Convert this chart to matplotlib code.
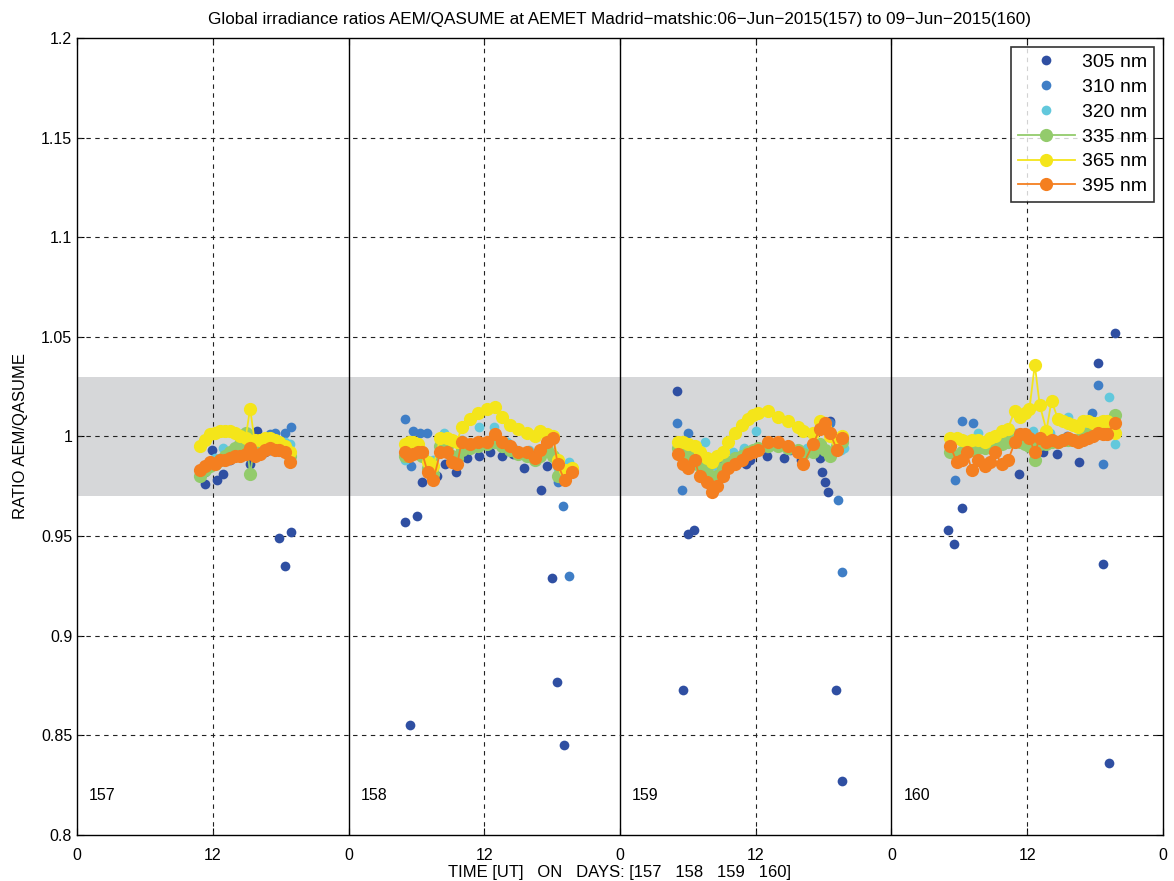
import numpy as np
import matplotlib
matplotlib.use('Agg')
import matplotlib.pyplot as plt

plt.rcParams['font.family'] = ['Liberation Sans', 'DejaVu Sans']

days = [157, 158, 159, 160]
wavelengths = ['305 nm', '310 nm', '320 nm', '335 nm', '365 nm', '395 nm']
colors = ['#2f4fa2', '#3f7ec6', '#62c8dc', '#93cb6c', '#f4e51a', '#f47f20']

# line series (335, 365, 395 nm): hours UT and ratios per day
line_hours = {
    157: [10.9, 11.3, 11.8, 12.2, 12.6, 13.1, 13.5, 14.0, 14.4, 14.9, 15.3, 15.7, 16.2, 16.6, 17.1, 17.5, 17.9, 18.4, 18.8],
    158: [5.0, 5.35, 5.7, 6.15, 6.5, 7.0, 7.5, 8.1, 8.7, 9.15, 9.6, 10.0, 10.75, 11.45, 12.25, 12.95, 13.55, 14.3, 15.0,
          15.8, 16.5, 16.95, 17.55, 18.1, 18.5, 19.1, 19.75],
    159: [5.1, 5.55, 6.0, 6.6, 7.05, 7.7, 8.15, 8.6, 9.1, 9.55, 10.15, 10.8, 11.3, 11.75, 12.2, 13.1, 14.0, 14.85, 15.75,
          16.2, 17.05, 17.7, 18.1, 18.55, 19.2, 19.6],
    160: [5.2, 5.8, 6.2, 6.65, 7.1, 7.65, 8.25, 8.7, 9.15, 9.75, 10.3, 10.9, 11.35, 11.8, 12.2, 12.67, 13.1, 13.7, 14.15,
          14.7, 15.15, 15.6, 16.05, 16.5, 16.95, 17.35, 17.8, 18.25, 18.7, 19.05, 19.75],
}
r335 = {
    157: [0.980, 0.983, 0.985, 0.986, 0.988, 0.990, 0.992, 0.994, 0.996, 1.002, 0.981, 0.996, 0.995, 0.996, 0.996, 0.996,
          0.995, 0.994, 0.990],
    158: [0.990, 0.993, 0.994, 0.994, 0.990, 0.984, 0.981, 0.995, 0.995, 0.990, 0.989, 0.993, 0.994, 0.995, 0.996, 0.997,
          0.995, 0.993, 0.991, 0.990, 0.988, 0.990, 0.993, 0.990, 0.980, 0.979, 0.983],
    159: [0.994, 0.992, 0.990, 0.990, 0.985, 0.982, 0.978, 0.980, 0.984, 0.987, 0.989, 0.990, 0.992, 0.993, 0.994, 0.995,
          0.995, 0.994, 0.993, 0.991, 0.992, 0.996, 0.993, 0.990, 0.995, 0.997],
    160: [0.992, 0.990, 0.992, 0.994, 0.993, 0.994, 0.994, 0.995, 0.996, 0.996, 0.997, 0.998, 0.997, 0.996, 0.995, 0.988,
          0.996, 0.996, 0.997, 0.997, 0.998, 0.998, 0.998, 0.998, 1.000, 1.001, 1.001, 1.002, 1.004, 1.006, 1.011],
}
r365 = {
    157: [0.995, 0.998, 1.001, 1.002, 1.003, 1.003, 1.003, 1.002, 1.000, 0.999, 1.014, 0.998, 0.998, 0.999, 0.999, 0.998,
          0.997, 0.995, 0.992],
    158: [0.996, 0.997, 0.997, 0.996, 0.992, 0.987, 0.985, 0.999, 0.999, 0.998, 0.997, 1.005, 1.009, 1.012, 1.014, 1.015,
          1.010, 1.006, 1.004, 1.002, 1.000, 1.003, 1.001, 1.000, 0.988, 0.983, 0.984],
    159: [0.997, 0.997, 0.996, 0.995, 0.992, 0.989, 0.987, 0.990, 0.992, 0.997, 1.002, 1.006, 1.009, 1.011, 1.012, 1.013,
          1.010, 1.008, 1.005, 1.003, 1.002, 1.008, 1.005, 1.000, 0.998, 1.000],
    160: [0.999, 0.999, 0.998, 0.997, 0.998, 0.998, 0.997, 0.999, 1.000, 1.003, 1.004, 1.013, 1.010, 1.012, 1.014, 1.036,
          1.016, 1.003, 1.018, 1.009, 1.008, 1.007, 1.006, 1.005, 1.008, 1.008, 1.007, 1.007, 1.008, 1.008, 1.002],
}
r395 = {
    157: [0.983, 0.985, 0.987, 0.986, 0.988, 0.988, 0.989, 0.990, 0.990, 0.991, 0.994, 0.990, 0.991, 0.993, 0.994, 0.993,
          0.993, 0.992, 0.987],
    158: [0.992, 0.990, 0.991, 0.992, 0.992, 0.982, 0.978, 0.992, 0.992, 0.987, 0.986, 0.997, 0.996, 0.997, 0.997, 1.001,
          0.997, 0.995, 0.992, 0.992, 0.989, 0.993, 0.997, 0.999, 0.986, 0.978, 0.982],
    159: [0.991, 0.986, 0.984, 0.988, 0.980, 0.977, 0.972, 0.975, 0.980, 0.984, 0.986, 0.988, 0.991, 0.992, 0.993, 0.997,
          0.997, 0.995, 0.992, 0.986, 0.996, 1.004, 1.007, 1.002, 0.993, 0.999],
    160: [0.995, 0.987, 0.988, 0.992, 0.983, 0.988, 0.985, 0.987, 0.992, 0.986, 0.988, 0.997, 1.001, 1.001, 0.999, 0.992,
          0.999, 0.997, 0.998, 0.997, 0.998, 0.999, 0.998, 0.997, 0.998, 0.999, 1.000, 1.002, 1.001, 1.001, 1.007],
}

# point series (305, 310, 320 nm)
h305 = {
    157: [11.3, 12.4, 12.9, 11.9, 15.9, 15.3, 17.9, 18.9, 18.4, 13.5, 14.4, 16.6, 17.1],
    158: [5.0, 6.05, 5.45, 6.5, 9.5, 11.55, 12.5, 13.55, 15.5, 17.0, 17.55, 18.0, 18.45, 19.05, 8.5, 10.5, 14.5, 7.8],
    159: [5.05, 5.55, 6.0, 6.55, 17.7, 17.85, 18.1, 18.4, 19.1, 19.6, 18.55, 7.5, 9.0, 10.5, 11.5, 13.0, 14.5, 16.0, 11.1],
    160: [5.0, 5.5, 6.2, 11.3, 13.4, 14.6, 16.6, 18.25, 18.7, 19.25, 19.75, 7.0, 8.0, 9.5, 10.5, 12.0, 15.5, 17.5],
}
v305 = {
    157: [0.976, 0.978, 0.981, 0.993, 1.003, 0.986, 0.949, 0.952, 0.935, 0.988, 0.990, 0.992, 0.993],
    158: [0.957, 0.960, 0.855, 0.977, 0.982, 0.990, 0.992, 0.990, 0.984, 0.973, 0.985, 0.929, 0.877, 0.845, 0.986, 0.989,
          0.991, 0.980],
    159: [1.023, 0.873, 0.951, 0.953, 0.989, 0.982, 0.977, 0.972, 0.873, 0.827, 1.008, 0.982, 0.985, 0.987, 0.988, 0.990,
          0.989, 0.988, 0.986],
    160: [0.953, 0.946, 0.964, 0.981, 0.992, 0.991, 0.987, 1.037, 0.936, 0.836, 1.052, 0.995, 0.994, 0.996, 0.998, 1.000,
          0.998, 0.999],
}
h310 = {
    157: [18.9, 18.4, 17.5, 17.1, 11.3, 12.4, 13.5, 14.4, 15.3, 16.2],
    158: [5.0, 5.7, 6.3, 6.95, 5.5, 18.5, 19.0, 19.5, 8.5, 10.5, 12.5, 14.5, 16.5],
    159: [5.05, 5.5, 6.0, 19.3, 19.6, 18.55, 7.0, 9.0, 11.0, 13.0, 15.0, 17.0],
    160: [5.6, 6.2, 7.2, 17.75, 18.25, 18.7, 8.5, 10.0, 12.5, 14.0, 15.5, 17.0],
}
v310 = {
    157: [1.005, 1.002, 1.002, 1.001, 0.982, 0.986, 0.990, 0.992, 0.995, 0.996],
    158: [1.009, 1.003, 1.002, 1.002, 0.985, 0.977, 0.965, 0.930, 0.995, 0.996, 0.998, 0.994, 0.990],
    159: [1.007, 0.973, 1.002, 0.968, 0.932, 1.007, 0.990, 0.988, 0.993, 0.994, 0.993, 0.993],
    160: [0.978, 1.008, 1.007, 1.012, 1.026, 0.986, 0.998, 0.999, 1.001, 0.999, 1.000, 1.004],
}
h320 = {
    157: [18.8, 12.9, 11.3, 12.2, 14.0, 15.7, 16.6, 17.5, 18.4],
    158: [5.0, 8.4, 11.55, 12.9, 19.5, 6.0, 7.5, 10.0, 14.0, 16.0, 17.5, 18.5],
    159: [7.5, 12.0, 8.5, 10.0, 11.0, 13.5, 15.0, 16.5, 19.5, 19.8],
    160: [7.65, 15.6, 19.25, 19.75, 9.0, 11.0, 12.5, 14.0, 17.0, 18.0],
}
v320 = {
    157: [0.996, 0.994, 0.984, 0.989, 0.994, 0.998, 0.999, 0.998, 0.997],
    158: [0.988, 1.002, 1.005, 1.005, 0.987, 0.995, 0.988, 0.998, 0.997, 0.993, 0.995, 0.984],
    159: [0.997, 1.003, 0.985, 0.992, 0.994, 0.996, 0.995, 0.994, 0.993, 0.994],
    160: [1.002, 1.010, 1.020, 0.996, 0.999, 1.002, 1.003, 1.002, 1.005, 1.006],
}

fig = plt.figure(figsize=(11.74, 8.81), dpi=100)
ax = fig.add_axes([0.0656, 0.0522, 0.925, 0.9047])

# tolerance band
ax.axhspan(0.97, 1.03, color='#d6d7d9', zorder=0, lw=0)

handles = []
for k, (hh, vv) in enumerate([(h305, v305), (h310, v310), (h320, v320)]):
    for d in days:
        x = d + np.array(hh[d]) / 24.0
        h, = ax.plot(x, vv[d], 'o', ls='none', color=colors[k], ms=7, mec='none', zorder=3)
    handles.append(h)
for k, rr in enumerate([r335, r365, r395]):
    for d in days:
        x = d + np.array(line_hours[d]) / 24.0
        h, = ax.plot(x, rr[d], '-o', color=colors[k + 3], ms=9.5, mec='none', lw=1.3, zorder=4 + k)
    handles.append(h)

ax.set_xlim(157, 161)
ax.set_ylim(0.8, 1.2)
xt = np.arange(157, 161.01, 0.5)
ax.set_xticks(xt)
ax.set_xticklabels(['0' if t == int(t) else '12' for t in xt])
yt = np.arange(0.8, 1.2001, 0.05)
ax.set_yticks(yt)
ax.set_yticklabels(['%g' % round(t, 2) for t in yt])
ax.tick_params(direction='in', top=True, right=True, labelsize=11.5, length=5)
ax.tick_params(axis='x', pad=9)

# grid: dashed lines, solid at day boundaries
for t in xt[1:-1]:
    if t == int(t):
        ax.axvline(t, color='black', lw=1.0, zorder=2)
    else:
        ax.axvline(t, color='#222222', lw=0.8, ls=(0, (4, 4)), zorder=2)
for t in yt[1:-1]:
    ax.axhline(t, color='#222222', lw=0.8, ls=(0, (4, 4)), zorder=2)

for d in days:
    ax.text(d + 0.045, 0.82, str(d), fontsize=11.5, va='center', ha='left')

ax.set_title('Global irradiance ratios AEM/QASUME at AEMET Madrid\u2212matshic:06\u2212Jun\u22122015(157) to 09\u2212Jun\u22122015(160)',
             fontsize=12.3, pad=10)
ax.set_xlabel('TIME [UT]   ON   DAYS: [157   158   159   160]', fontsize=12, labelpad=2)
ax.set_ylabel('RATIO AEM/QASUME', fontsize=12, labelpad=9)

leg = ax.legend(handles, wavelengths, loc='upper right', fontsize=14, frameon=True, fancybox=False,
                edgecolor='black', borderaxespad=0.45, handlelength=2.9, labelspacing=0.37, borderpad=0.35,
                handletextpad=0.4)
leg.get_frame().set_linewidth(1.2)

for s in ax.spines.values():
    s.set_linewidth(1.0)

fig.savefig('out.png', dpi=100)
